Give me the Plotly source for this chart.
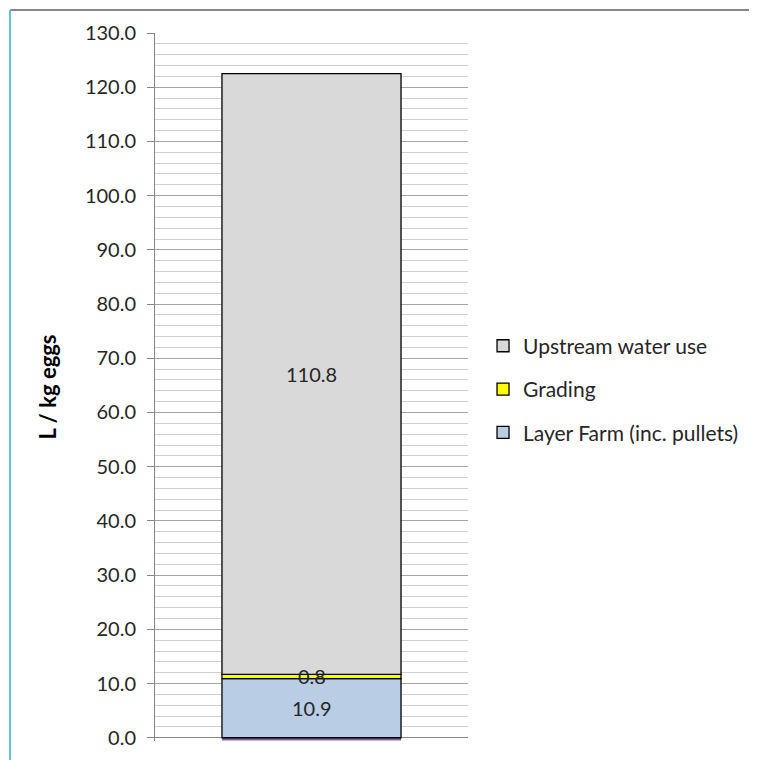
import plotly.graph_objects as go

categories = ["Eggs"]
series_names = ["Layer Farm (inc. pullets)", "Grading", "Upstream water use"]
series_values = [[10.9], [0.8], [110.8]]
series_colors = ["#b9cde5", "#ffff00", "#d9d9d9"]
base_name = "other"
base_values = [-0.5]
base_color = "#8064a2"

FONT = "Lato"

fig = go.Figure()
fig.add_trace(go.Bar(x=categories, y=base_values, name=base_name, showlegend=False,
                     marker=dict(color=base_color, line=dict(width=0)), hoverinfo="skip"))
n = len(series_names)
for k, (name, vals, col) in enumerate(zip(series_names, series_values, series_colors)):
    fig.add_trace(go.Bar(x=categories, y=vals, name=name, legendgroup=name, legendrank=n - k,
                         marker=dict(color=col, line=dict(color="#000000", width=1.3))))

# data labels centred on each segment
cum = [0.0 for _ in categories]
for name, vals in zip(series_names, series_values):
    for i, v in enumerate(vals):
        fig.add_annotation(x=categories[i], y=cum[i] + v / 2, text=f"{v:.1f}", showarrow=False,
                           font=dict(family=FONT, size=20, color="#262626"))
        cum[i] += v

fig.update_layout(
    width=757, height=760,
    margin=dict(l=147, r=297, t=25, b=27),
    barmode="relative", bargap=0.428,
    plot_bgcolor="white", paper_bgcolor="white",
    font=dict(family=FONT, size=20, color="#262626"),
    showlegend=True,
    legend=dict(x=1.048, xanchor="left", y=0.497, yanchor="middle",
                traceorder="grouped", tracegroupgap=13,
                font=dict(family=FONT, size=21, color="#262626"),
                bgcolor="rgba(0,0,0,0)"),
    shapes=[
        dict(type="line", xref="paper", yref="paper", x0=-0.463, x1=2.0, y0=1.0325, y1=1.0325,
             line=dict(color="#868686", width=2)),
        dict(type="line", xref="paper", yref="paper", x0=-0.463, x1=-0.463, y0=1.0325, y1=-0.05,
             line=dict(color="#5cc3cb", width=2)),
    ],
)
fig.update_yaxes(
    range=[-0.6, 130], tick0=0, dtick=10, tickformat=".1f",
    showgrid=True, gridcolor="#a6a6a6", gridwidth=1,
    minor=dict(tick0=0, dtick=2, showgrid=True, gridcolor="#d0d0d0", gridwidth=1),
    ticks="outside", ticklen=7, tickcolor="#868686", ticklabelstandoff=7,
    showline=True, linecolor="#868686", linewidth=1,
    zeroline=True, zerolinecolor="#868686", zerolinewidth=1,
    title=dict(text="<b>L / kg eggs</b>", font=dict(family=FONT, size=22, color="#000000"), standoff=22),
    tickfont=dict(family=FONT, size=20, color="#262626"),
)
fig.update_xaxes(range=[-0.5, 0.5], showline=False,
                 showticklabels=False, ticks="", showgrid=False)

fig.write_html("out.html")
